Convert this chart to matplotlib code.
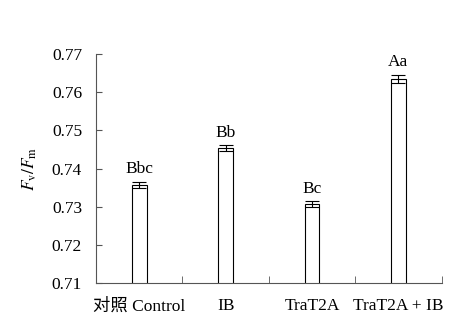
import numpy as np
import matplotlib.pyplot as plt

plt.rcParams['font.family'] = ['Liberation Serif', 'Noto Sans CJK SC']
plt.rcParams['mathtext.fontset'] = 'stix'

groups = ["对照 Control", "IB", "TraT2A", "TraT2A + IB"]
fvfm = [0.7357, 0.7454, 0.7307, 0.7635]
err = [0.0009, 0.0007, 0.0007, 0.0011]
letters = ["Bbc", "Bb", "Bc", "Aa"]
yticks = [0.71, 0.72, 0.73, 0.74, 0.75, 0.76, 0.77]

fig = plt.figure(figsize=(4.56, 3.28), dpi=100)
ax = fig.add_axes([0.2105, 0.137, 0.758, 0.698])

x = np.arange(len(groups))
ax.bar(x, fvfm, width=0.17, color="white", edgecolor="black", linewidth=0.8,
       yerr=err, error_kw=dict(ecolor="black", elinewidth=0.8, capsize=5, capthick=0.8))

for xi, v, e, lab in zip(x, fvfm, err, letters):
    ax.text(xi, v + e + 0.0012, lab, ha="center", va="bottom", fontsize=12.5)

ax.set_xlim(-0.5, 3.5)
ax.set_ylim(0.71, 0.77)
ax.set_yticks(yticks)
ax.set_yticklabels(["%.2f" % t for t in yticks], fontsize=12.5)
ax.set_xticks(x)
ax.set_xticklabels(groups, fontsize=12.5)
ax.set_xticks(np.arange(-0.5, 4, 1.0), minor=True)
ax.tick_params(axis="x", which="major", length=0, pad=11)
ax.tick_params(axis="x", which="minor", direction="in", length=5, color="#555555")
ax.tick_params(axis="y", direction="in", length=4, color="#555555", pad=10)

for s in ["top", "right"]:
    ax.spines[s].set_visible(False)
for s in ["left", "bottom"]:
    ax.spines[s].set_color("#555555")
    ax.spines[s].set_linewidth(0.8)

ax.set_ylabel(r"$F_\mathrm{v}/F_\mathrm{m}$", fontsize=12.5, labelpad=9)

fig.savefig("out.png", dpi=100)
